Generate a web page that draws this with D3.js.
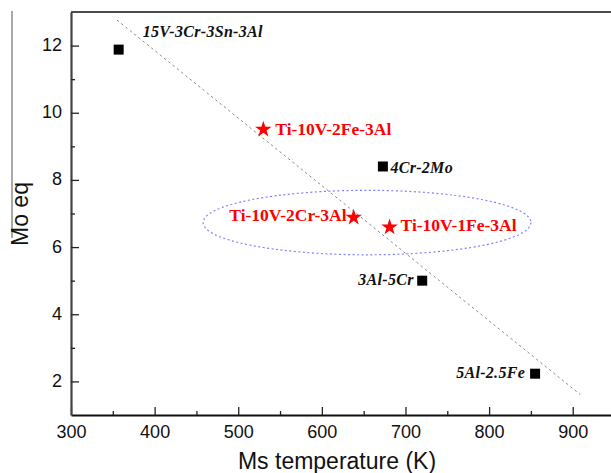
<!DOCTYPE html>
<html>
<head>
<meta charset="utf-8">
<script src="https://cdn.jsdelivr.net/npm/d3@7"></script>
<style>
  html, body { margin: 0; padding: 0; background: #fff; }
  svg { display: block; }
</style>
</head>
<body>
<svg id="chart" width="611" height="473"></svg>
<script>
// ---------- data ----------
const alloyNames = ["15V-3Cr-3Sn-3Al", "4Cr-2Mo", "3Al-5Cr", "5Al-2.5Fe"];
const alloyMs    = [357, 673, 720, 855];
const alloyMoEq  = [11.88, 8.40, 5.00, 2.23];

const newNames = ["Ti-10V-2Fe-3Al", "Ti-10V-2Cr-3Al", "Ti-10V-1Fe-3Al"];
const newMs    = [530, 638, 681];
const newMoEq  = [9.50, 6.88, 6.59];

const trendMs   = [355, 909];
const trendMoEq = [12.76, 1.61];

const ellipseCenter = [654, 6.73];
const ellipseRadii  = [196, 0.96];

const xMajorTicks = [300, 400, 500, 600, 700, 800, 900];
const xMinorTicks = [350, 450, 550, 650, 750, 850, 950];
const yMajorTicks = [2, 4, 6, 8, 10, 12];
const yMinorTicks = [3, 5, 7, 9, 11];

const xTitle = "Ms temperature (K)";
const yTitle = "Mo eq";

// ---------- layout ----------
(function draw() {
const svg = d3.select("#chart");
const mLeft = 71, mTop = 12, mBottom = 415;
const x = d3.scaleLinear().domain([300, 950]).range([mLeft, mLeft + 650 * 0.8362]);
const y = d3.scaleLinear().domain([1, 13]).range([mBottom, mTop]);

// stray frame line at far left
svg.append("line").attr("x1", 12).attr("x2", 12).attr("y1", 11).attr("y2", 238)
  .attr("stroke", "#555").attr("stroke-width", 1);

// top border
svg.append("line").attr("x1", mLeft).attr("x2", 611).attr("y1", mTop).attr("y2", mTop)
  .attr("stroke", "#111").attr("stroke-width", 1.6);

const fontSans = "Arial, 'Liberation Sans', sans-serif";
const fontSerif = "'Times New Roman', 'Liberation Serif', serif";

const gx = svg.append("g").attr("transform", `translate(0,${mBottom})`)
  .call(d3.axisBottom(x).tickValues(xMajorTicks).tickSize(-8).tickSizeOuter(0).tickPadding(10.5).tickFormat(d3.format("d")));
svg.append("g").attr("transform", `translate(0,${mBottom})`)
  .call(d3.axisBottom(x).tickValues(xMinorTicks).tickSize(-4).tickSizeOuter(0).tickFormat(""))
  .call(g => g.select(".domain").remove());

const gy = svg.append("g").attr("transform", `translate(${mLeft},0)`)
  .call(d3.axisLeft(y).tickValues(yMajorTicks).tickSize(-8).tickSizeOuter(0).tickPadding(9).tickFormat(d3.format("d")));
svg.append("g").attr("transform", `translate(${mLeft},0)`)
  .call(d3.axisLeft(y).tickValues(yMinorTicks).tickSize(-4).tickSizeOuter(0).tickFormat(""))
  .call(g => g.select(".domain").remove());

svg.selectAll(".tick line").attr("stroke", "#222").attr("stroke-width", 1.3);
gx.select(".domain").attr("stroke", "#111").attr("stroke-width", 1.8);
gy.select(".domain").attr("stroke", "#444").attr("stroke-width", 2.2);
gx.selectAll(".tick text").attr("font-family", fontSans).attr("font-size", 18).attr("fill", "#111");
gy.selectAll(".tick text").attr("font-family", fontSans).attr("font-size", 18).attr("fill", "#111").attr("dy", "0.28em");

// axis titles
svg.append("text").attr("x", 337).attr("y", 468.5).attr("text-anchor", "middle")
  .attr("font-family", fontSans).attr("font-size", 23).attr("fill", "#111").text(xTitle);
svg.append("text").attr("transform", "translate(28,214) rotate(-90)").attr("text-anchor", "middle")
  .attr("font-family", fontSans).attr("font-size", 23).attr("fill", "#111").text(yTitle);

// trend line
svg.append("line")
  .attr("x1", x(trendMs[0])).attr("y1", y(trendMoEq[0]))
  .attr("x2", x(trendMs[1])).attr("y2", y(trendMoEq[1]))
  .attr("stroke", "#8a8a8a").attr("stroke-width", 1).attr("stroke-dasharray", "2.5,3");

// ellipse
svg.append("ellipse")
  .attr("cx", x(ellipseCenter[0])).attr("cy", y(ellipseCenter[1]))
  .attr("rx", x(ellipseCenter[0] + ellipseRadii[0]) - x(ellipseCenter[0]))
  .attr("ry", y(ellipseCenter[1] - ellipseRadii[1]) - y(ellipseCenter[1]))
  .attr("fill", "none").attr("stroke", "#8080ff").attr("stroke-width", 1.2).attr("stroke-dasharray", "2,2.5");

// squares
const alloys = alloyNames.map((n, i) => ({ name: n, ms: alloyMs[i], mo: alloyMoEq[i] }));
const alloyLabelOffset = [[24, -13, "start"], [7.5, 6.5, "start"], [-8.5, 4, "end"], [-10, 4, "end"]];
svg.append("g").selectAll("path").data(alloys).join("path")
  .attr("transform", d => `translate(${x(d.ms)},${y(d.mo)})`)
  .attr("d", d3.symbol(d3.symbolSquare, 100))
  .attr("fill", "#000");
svg.append("g").selectAll("text").data(alloys).join("text")
  .attr("x", (d, i) => x(d.ms) + alloyLabelOffset[i][0])
  .attr("y", (d, i) => y(d.mo) + alloyLabelOffset[i][1])
  .attr("text-anchor", (d, i) => alloyLabelOffset[i][2])
  .attr("font-family", fontSerif).attr("font-style", "italic").attr("font-weight", "bold")
  .attr("font-size", 16).attr("fill", "#111").attr("letter-spacing", 0.3)
  .text(d => d.name);

// stars
const newAlloys = newNames.map((n, i) => ({ name: n, ms: newMs[i], mo: newMoEq[i] }));
const newLabelOffset = [[12, 5, "start"], [-7, 3.5, "end"], [11, 3.5, "start"]];
svg.append("g").selectAll("path").data(newAlloys).join("path")
  .attr("transform", d => `translate(${x(d.ms)},${y(d.mo)})`)
  .attr("d", d3.symbol(d3.symbolStar, 85))
  .attr("fill", "#ff0000");
svg.append("g").selectAll("text").data(newAlloys).join("text")
  .attr("x", (d, i) => x(d.ms) + newLabelOffset[i][0])
  .attr("y", (d, i) => y(d.mo) + newLabelOffset[i][1])
  .attr("text-anchor", (d, i) => newLabelOffset[i][2])
  .attr("font-family", fontSerif).attr("font-weight", "bold")
  .attr("font-size", 17.5).attr("fill", "#ff0000")
  .text(d => d.name);
})();
</script>
</body>
</html>
